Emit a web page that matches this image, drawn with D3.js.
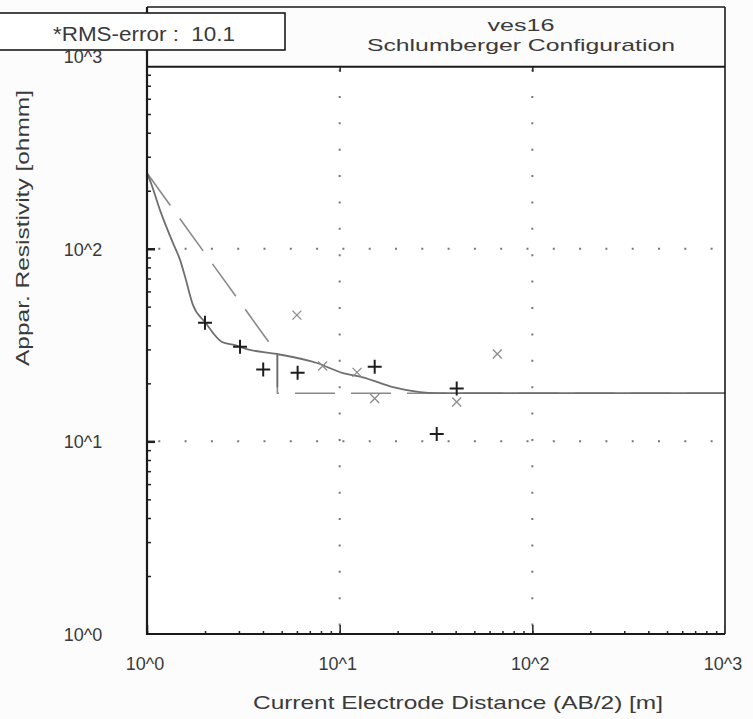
<!DOCTYPE html>
<html>
<head>
<meta charset="utf-8">
<script src="https://cdn.jsdelivr.net/npm/d3@7"></script>
<style>
  html, body { margin: 0; padding: 0; background: #fcfcfc; }
  svg { display: block; font-family: "Liberation Sans", Arial, sans-serif; }
</style>
</head>
<body>
<svg id="chart" width="753" height="719"></svg>
<script>
// ---- tick values and labels ----
const xTickValues = [1, 10, 100, 1000];
const xTickLabels = ["10^0", "10^1", "10^2", "10^3"];
const yTickValues = [1, 10, 100, 1000];
const yTickLabels = ["10^0", "10^1", "10^2", "10^3"];

// ---- field measurements: AB/2 [m] and apparent resistivity [ohmm] ----
const fieldAB2 = [2.0, 3.04, 4.01, 6.05, 15.2, 31.9, 40.5];
const fieldRho = [41.3, 31.0, 23.6, 22.7, 24.4, 10.9, 18.8];

// ---- second sounding branch (grey crosses) ----
const crossAB2 = [6.0, 8.16, 12.3, 15.2, 40.5, 65.8];
const crossRho = [45.2, 24.6, 22.8, 16.7, 16.0, 28.4];

// ---- computed apparent resistivity curve ----
const curveAB2 = [1.0, 1.04, 1.168, 1.364, 1.483, 1.575, 1.732, 2.0, 2.45, 2.86, 3.30, 4.73, 7.62, 10.4, 13.2, 18.9, 26.1, 32.0, 1000];
const curveRho = [247, 224, 158.6, 106.9, 87.7, 71.6, 51.0, 41.6, 32.8, 31.6, 30.1, 28.4, 25.5, 22.6, 21.5, 19.1, 18.0, 17.8, 17.8];

// ---- layered model ----
const modelAB2 = [1.0, 4.75, 4.75, 1000];
const modelRho = [247, 28.4, 17.75, 17.75];

// ---- texts ----
const rmsText = "*RMS-error :  10.1";
const titleLine1 = "ves16";
const titleLine2 = "Schlumberger Configuration";
const xTitle = "Current Electrode Distance (AB/2) [m]";
const yTitle = "Appar. Resistivity [ohmm]";

// ---- layout ----
const svg = d3.select("#chart");
const left = 147, right = 725, bottom = 634, frameTop = 66.7, titleTop = 7;

const x = d3.scaleLog().domain([1, 1000]).range([left, right]);
const y = d3.scaleLog().domain([1, 1000]).range([bottom, 56]);

svg.append("rect").attr("width", 753).attr("height", 719).attr("fill", "#fcfcfc");
svg.append("rect")
  .attr("x", left).attr("y", frameTop)
  .attr("width", right - left).attr("height", bottom - frameTop)
  .attr("fill", "#ffffff");

svg.append("defs").append("clipPath").attr("id", "plotClip")
  .append("rect")
  .attr("x", left).attr("y", frameTop)
  .attr("width", right - left).attr("height", bottom - frameTop);

const plot = svg.append("g").attr("clip-path", "url(#plotClip)");

// dotted grid at the decades
const gridX = [10, 100];
const gridY = [10, 100];
plot.selectAll(".gx").data(gridX).join("line")
  .attr("x1", d => x(d)).attr("x2", d => x(d))
  .attr("y1", frameTop).attr("y2", bottom)
  .attr("stroke", "#777").attr("stroke-width", 2)
  .attr("stroke-dasharray", "2,24.38").attr("stroke-dashoffset", 23.5);
plot.selectAll(".gy").data(gridY).join("line")
  .attr("x1", left).attr("x2", right)
  .attr("y1", d => y(d)).attr("y2", d => y(d))
  .attr("stroke", "#777").attr("stroke-width", 2)
  .attr("stroke-dasharray", "2,24.3").attr("stroke-dashoffset", 15);

// axis ticks (all inside the frame)
const minorTicks = y.ticks();
const majorTicks = yTickValues;

function tickAxis(axisFn, scale, values, size, tx, ty) {
  const g = plot.append("g").attr("transform", `translate(${tx},${ty})`)
    .call(axisFn(scale).tickValues(values).tickSize(size).tickFormat(""));
  g.select(".domain").remove();
  g.selectAll("line").attr("stroke", "#222").attr("stroke-width", 1.5);
  return g;
}
tickAxis(d3.axisRight, y, minorTicks, 4, left, 0);
tickAxis(d3.axisRight, y, majorTicks, 8, left, 0).selectAll("line").attr("stroke-width", 2.5);
tickAxis(d3.axisTop, x, x.ticks(), 3, 0, bottom);
tickAxis(d3.axisTop, x, xTickValues, 9, 0, bottom);
tickAxis(d3.axisBottom, x, [10, 100], 5, 0, frameTop);

// layered model (dashed) with its solid layer boundary
const modelPts = modelAB2.map((d, i) => [x(d), y(modelRho[i])]);
plot.append("path")
  .attr("d", d3.line()(modelPts))
  .attr("fill", "none").attr("stroke", "#8a8a8a").attr("stroke-width", 1.6)
  .attr("stroke-dasharray", "40,16");
plot.append("line")
  .attr("x1", x(modelAB2[1])).attr("x2", x(modelAB2[2]))
  .attr("y1", y(modelRho[1])).attr("y2", y(modelRho[2]) - 6)
  .attr("stroke", "#6a6a6a").attr("stroke-width", 1.6);

// computed curve
const curvePts = curveAB2.map((d, i) => [x(d), y(curveRho[i])]);
plot.append("path")
  .attr("d", d3.line().curve(d3.curveMonotoneX)(curvePts))
  .attr("fill", "none").attr("stroke", "#6f6f6f").attr("stroke-width", 1.8);

// grey crosses
plot.selectAll(".cross").data(crossAB2).join("path")
  .attr("d", "M-4.5,-4.5L4.5,4.5M-4.5,4.5L4.5,-4.5")
  .attr("transform", (d, i) => `translate(${x(d)},${y(crossRho[i])})`)
  .attr("stroke", "#8c8c8c").attr("stroke-width", 1.3).attr("fill", "none");

// black pluses
plot.selectAll(".plus").data(fieldAB2).join("path")
  .attr("d", "M-7,0H7M0,-7V7")
  .attr("transform", (d, i) => `translate(${x(d)},${y(fieldRho[i])})`)
  .attr("stroke", "#1e1e1e").attr("stroke-width", 2).attr("fill", "none");

// frame
const frame = svg.append("g").attr("fill", "none").attr("stroke", "#1a1a1a");
frame.append("line").attr("x1", left).attr("x2", left).attr("y1", titleTop).attr("y2", bottom + 1).attr("stroke-width", 2.2);
frame.append("line").attr("x1", left - 1).attr("x2", right).attr("y1", bottom).attr("y2", bottom).attr("stroke-width", 2.2);
frame.append("line").attr("x1", right).attr("x2", right).attr("y1", titleTop).attr("y2", bottom).attr("stroke-width", 1.6);
frame.append("line").attr("x1", left).attr("x2", right).attr("y1", frameTop).attr("y2", frameTop).attr("stroke-width", 2);
frame.append("line").attr("x1", left).attr("x2", right).attr("y1", titleTop).attr("y2", titleTop).attr("stroke-width", 1.6);

// title
const textColor = "#3a3a3a";
svg.append("text").attr("x", 521).attr("y", 31)
  .attr("text-anchor", "middle").attr("font-size", 17).attr("fill", textColor)
  .attr("textLength", 67).attr("lengthAdjust", "spacingAndGlyphs")
  .text(titleLine1);
svg.append("text").attr("x", 521).attr("y", 51)
  .attr("text-anchor", "middle").attr("font-size", 17).attr("fill", textColor)
  .attr("textLength", 308).attr("lengthAdjust", "spacingAndGlyphs")
  .text(titleLine2);

// RMS box
svg.append("rect").attr("x", -2).attr("y", 13).attr("width", 287).attr("height", 37)
  .attr("fill", "#ffffff").attr("stroke", "#1a1a1a").attr("stroke-width", 1.6);
svg.append("text").attr("x", 53).attr("y", 41)
  .attr("font-size", 20).attr("fill", textColor)
  .attr("xml:space", "preserve").style("white-space", "pre")
  .attr("textLength", 182).attr("lengthAdjust", "spacingAndGlyphs")
  .text(rmsText);

// tick labels
svg.selectAll(".xl").data(xTickValues).join("text")
  .attr("x", d => x(d) - 2).attr("y", 670)
  .attr("text-anchor", "middle").attr("font-size", 18).attr("fill", textColor)
  .text((d, i) => xTickLabels[i]);
svg.selectAll(".yl").data(yTickValues).join("text")
  .attr("x", 83).attr("y", d => y(d) + 7)
  .attr("text-anchor", "middle").attr("font-size", 18).attr("fill", textColor)
  .text((d, i) => yTickLabels[i]);

// axis titles
svg.append("text").attr("x", 458).attr("y", 709)
  .attr("text-anchor", "middle").attr("font-size", 19).attr("fill", textColor)
  .attr("textLength", 410).attr("lengthAdjust", "spacingAndGlyphs")
  .text(xTitle);
svg.append("text")
  .attr("transform", "translate(29,228) rotate(-90)")
  .attr("text-anchor", "middle").attr("font-size", 19).attr("fill", textColor)
  .attr("textLength", 276).attr("lengthAdjust", "spacingAndGlyphs")
  .text(yTitle);
</script>
</body>
</html>
